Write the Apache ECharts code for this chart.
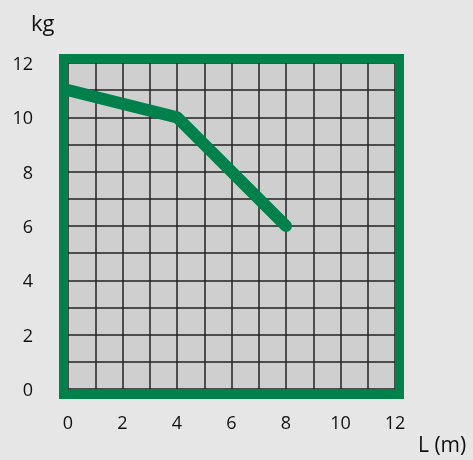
<!DOCTYPE html>
<html>
<head>
<meta charset="utf-8">
<style>
  html, body { margin: 0; padding: 0; background: #e6e6e6; }
  #chart { width: 473px; height: 460px; }
</style>
<script src="https://cdn.jsdelivr.net/npm/echarts@6/dist/echarts.min.js"></script>
</head>
<body>
<div id="chart"></div>
<script>
// data
const lengthM = [0, 4, 8];
const massKg = [11, 10, 6];
const xTicks = [0, 2, 4, 6, 8, 10, 12];
const yTicks = [0, 2, 4, 6, 8, 10, 12];

const green = '#00804a';
const font = '"Open Sans", "Noto Sans", sans-serif';

const chart = echarts.init(document.getElementById('chart'));

const axisCommon = {
  type: 'value',
  min: 0,
  max: 12,
  interval: 1,
  axisLine: { show: false },
  axisTick: { show: false },
  splitLine: { show: true, lineStyle: { color: '#222', width: 1.5 } },
  axisLabel: {
    color: '#111',
    fontSize: 18,
    fontFamily: font
  }
};

chart.setOption({
  backgroundColor: '#e6e6e6',
  animation: false,
  grid: {
    left: 68,
    right: 78,
    top: 63,
    bottom: 71,
    show: true,
    backgroundColor: '#cfcfcf',
    borderWidth: 0
  },
  xAxis: Object.assign({}, axisCommon, {
    axisLabel: Object.assign({}, axisCommon.axisLabel, {
      margin: 26,
      formatter: v => (xTicks.includes(v) ? String(v) : '')
    })
  }),
  yAxis: Object.assign({}, axisCommon, {
    axisLabel: Object.assign({}, axisCommon.axisLabel, {
      margin: 35,
      lineHeight: 22,
      verticalAlign: 'top',
      padding: [-9, 0, 0, 0],
      formatter: v => (yTicks.includes(v) ? String(v) : '')
    })
  }),
  graphic: [
    {
      type: 'rect',
      z: 100,
      shape: { x: 63.5, y: 58.5, width: 336, height: 336 },
      style: { fill: 'none', stroke: green, lineWidth: 9 }
    },
    {
      type: 'text',
      left: 31,
      top: 14,
      style: { text: 'kg', fontSize: 22, fontFamily: font, fill: '#111' }
    },
    {
      type: 'text',
      left: 418,
      top: 436,
      style: { text: 'L (m)', fontSize: 21, fontFamily: font, fill: '#111' }
    }
  ],
  series: [
    {
      type: 'line',
      data: lengthM.map((x, i) => [x, massKg[i]]),
      symbol: 'none',
      lineStyle: { color: green, width: 12, cap: 'round', join: 'round' }
    }
  ]
});
</script>
</body>
</html>
